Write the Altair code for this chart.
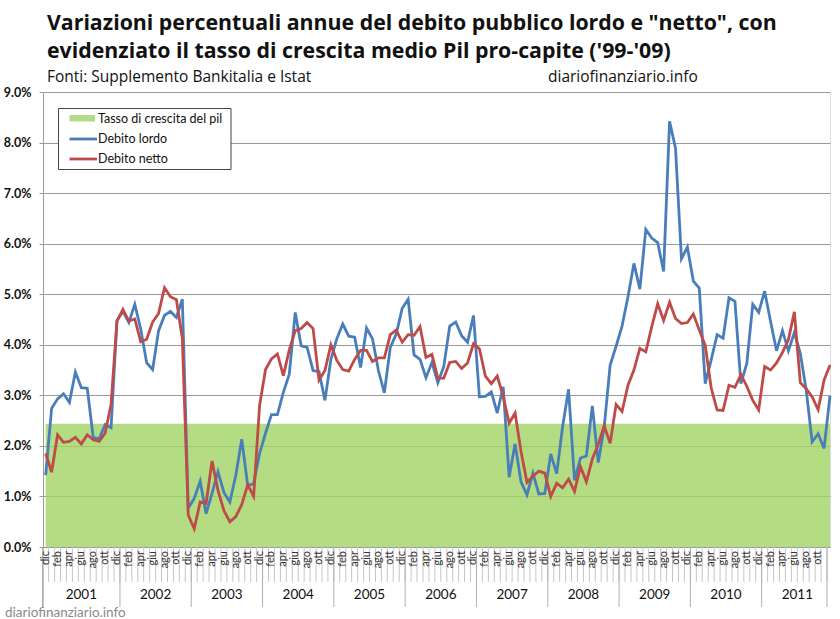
import altair as alt
import pandas as pd

# ---------------- data ----------------
mesi = ["gen", "feb", "mar", "apr", "mag", "giu", "lug", "ago", "set", "ott", "nov", "dic"]
anni = [2001, 2002, 2003, 2004, 2005, 2006, 2007, 2008, 2009, 2010, 2011]

# variazione % annua, da dic 2000 a dic 2011
debito_lordo = [
    1.42, 2.74, 2.93, 3.03, 2.86, 3.46, 3.15, 3.14, 2.17, 2.14, 2.42, 2.36, 4.48,
    4.66, 4.44, 4.80, 4.31, 3.64, 3.51, 4.28, 4.58, 4.66, 4.54, 4.90, 0.77,
    0.96, 1.30, 0.66, 1.06, 1.49, 1.08, 0.89, 1.42, 2.13, 1.22, 1.25, 1.85,
    2.25, 2.62, 2.62, 3.06, 3.42, 4.64, 3.98, 3.95, 3.49, 3.47, 2.90, 3.71,
    4.12, 4.41, 4.17, 4.15, 3.55, 4.33, 4.12, 3.49, 3.05, 3.95, 4.21, 4.72,
    4.90, 3.80, 3.71, 3.35, 3.65, 3.25, 3.57, 4.37, 4.45, 4.18, 4.05, 4.58,
    2.97, 2.98, 3.07, 2.65, 3.17, 1.38, 2.04, 1.29, 1.03, 1.46, 1.05, 1.06,
    1.84, 1.45, 2.38, 3.12, 1.32, 1.76, 1.80, 2.79, 1.67, 2.37, 3.60, 3.97,
    4.37, 4.95, 5.61, 5.10, 6.28, 6.11, 6.02, 5.45, 8.42, 7.89, 5.70, 5.93,
    5.26, 5.12, 3.23, 3.70, 4.20, 4.13, 4.93, 4.86, 3.23, 3.63, 4.80, 4.64,
    5.06, 4.46, 3.88, 4.28, 3.88, 4.24, 3.83, 3.10, 2.08, 2.24, 1.95, 2.99,
]
debito_netto = [
    1.85, 1.48, 2.22, 2.07, 2.09, 2.17, 2.04, 2.22, 2.12, 2.09, 2.25, 2.82, 4.47,
    4.70, 4.47, 4.51, 4.06, 4.11, 4.45, 4.62, 5.13, 4.95, 4.89, 4.12, 0.63,
    0.36, 0.89, 0.86, 1.70, 1.12, 0.72, 0.50, 0.60, 0.84, 1.23, 1.00, 2.80,
    3.51, 3.72, 3.82, 3.39, 3.90, 4.28, 4.32, 4.44, 4.32, 3.30, 3.49, 4.00,
    3.69, 3.51, 3.48, 3.71, 3.89, 3.89, 3.67, 3.74, 3.74, 4.20, 4.29, 4.05,
    4.20, 4.19, 4.36, 3.75, 3.81, 3.34, 3.34, 3.65, 3.67, 3.53, 3.64, 4.02,
    3.92, 3.38, 3.23, 3.38, 2.98, 2.45, 2.65, 1.89, 1.28, 1.40, 1.50, 1.46,
    1.00, 1.26, 1.17, 1.34, 1.10, 1.59, 1.29, 1.74, 2.03, 2.40, 2.05, 2.82,
    2.68, 3.20, 3.50, 3.93, 3.86, 4.36, 4.81, 4.48, 4.84, 4.52, 4.42, 4.44,
    4.61, 4.29, 3.99, 3.15, 2.71, 2.70, 3.20, 3.16, 3.41, 3.18, 2.90, 2.71,
    3.57, 3.50, 3.64, 3.85, 4.10, 4.65, 3.25, 3.13, 2.97, 2.72, 3.30, 3.60,
]
pil_medio = 2.44  # tasso di crescita medio Pil pro-capite '99-'09

etichette_mese = ["dic"] + [m for a in anni for m in mesi]
gruppo_anno = [anni[0]] + [a for a in anni for m in mesi]
n = len(debito_lordo)

df = pd.DataFrame({
    "i": list(range(n)),
    "mese": etichette_mese,
    "anno": gruppo_anno,
    "Debito lordo": [v / 100 for v in debito_lordo],
    "Debito netto": [v / 100 for v in debito_netto],
    "pil": [pil_medio / 100] * n,
})

# ---------------- layout ----------------
W, H = 787, 455
FONT = "Lato"
TFONT = "Open Sans"
one = pd.DataFrame({"k": [0]})

xscale = alt.Scale(domain=[-0.45, n - 1], nice=False, zero=False)
yscale = alt.Scale(domain=[0, 0.09], nice=False)
X = alt.X("i:Q", scale=xscale, axis=None)

area = alt.Chart(df).mark_area(color="#a1d363", opacity=0.8).encode(
    x=X,
    y=alt.Y("pil:Q", scale=yscale, axis=alt.Axis(
        format=".1%", values=[k / 100 for k in range(10)], grid=True,
        gridColor="#9a9a9a", domainColor="#9a9a9a", tickColor="#9a9a9a",
        tickSize=4, labelPadding=8, labelFont=FONT, labelFontWeight="bold",
        labelFontSize=12.5, labelColor="#111", title=None)),
)

lines = alt.Chart(df).transform_fold(
    ["Debito lordo", "Debito netto"], as_=["serie", "valore"]
).mark_line(strokeWidth=2.8).encode(
    x=X,
    y=alt.Y("valore:Q", scale=yscale),
    color=alt.Color("serie:N", scale=alt.Scale(
        domain=["Debito lordo", "Debito netto"], range=["#4a7ebb", "#be4b48"]), legend=None),
)

# category axis (months + years)
month_ticks = alt.Chart(df).transform_filter(f"datum.i < {n - 1}").transform_calculate(
    xb="datum.i + 0.5").mark_rule(color="#c6c6c6", strokeWidth=1).encode(
    x=alt.X("xb:Q", scale=xscale, axis=None), y=alt.value(H), y2=alt.value(H + 35))

month_labels = alt.Chart(df).transform_filter(
    f"datum.i % 2 == 0 && datum.i < {n - 1}").mark_text(
    angle=270, align="right", baseline="middle", font=FONT, fontSize=11, color="#333"
).encode(x=alt.X("i:Q", scale=xscale, axis=None), y=alt.value(H + 4), text="mese:N")

years = alt.Chart(df).transform_aggregate(
    lo="min(i)", hi="max(i)", c="mean(i)", groupby=["anno"]
).transform_calculate(xl="datum.lo - 0.5", xr="datum.hi - 0.5")

year_rules = years.mark_rule(color="#b0b0b0", strokeWidth=1).encode(
    x=alt.X("xl:Q", scale=xscale, axis=None), y=alt.value(H), y2=alt.value(H + 60))
year_end = years.transform_filter(f"datum.anno == {anni[-1]}").mark_rule(
    color="#b0b0b0", strokeWidth=1).encode(
    x=alt.X("xr:Q", scale=xscale, axis=None), y=alt.value(H), y2=alt.value(H + 60))
year_labels = years.mark_text(font=FONT, fontSize=13.5, color="#111", baseline="middle").encode(
    x=alt.X("c:Q", scale=xscale, axis=None), y=alt.value(H + 48), text="anno:N")

axis_ext = alt.Chart(one).mark_rule(color="#9a9a9a").encode(
    x=alt.value(0), y=alt.value(H), y2=alt.value(H + 60))

# legend
leg_box = alt.Chart(one).mark_rect(fill="white", stroke="#444", strokeWidth=1).encode(
    x=alt.value(15.5), x2=alt.value(188), y=alt.value(16.5), y2=alt.value(77.5))
leg_sw = alt.Chart(one).mark_rect(fill="#b4dc86").encode(
    x=alt.value(26.5), x2=alt.value(52), y=alt.value(23), y2=alt.value(29.5))
leg_l1 = alt.Chart(one).mark_rule(color="#4a7ebb", strokeWidth=2.8).encode(
    x=alt.value(26.5), x2=alt.value(54), y=alt.value(47))
leg_l2 = alt.Chart(one).mark_rule(color="#be4b48", strokeWidth=2.8).encode(
    x=alt.value(26.5), x2=alt.value(54), y=alt.value(67))
leg_txt = alt.Chart(pd.DataFrame({
    "t": ["Tasso di crescita del pil", "Debito lordo", "Debito netto"],
    "yy": [26.5, 47, 67],
})).mark_text(align="left", baseline="middle", font=FONT, fontSize=12.5, color="#111").encode(
    x=alt.value(55), y=alt.Y("yy:Q", scale=None), text="t:N")

# titles
def label(txt, x, y, size, weight="normal", color="#111", font=TFONT):
    return alt.Chart(one).mark_text(
        align="left", baseline="alphabetic", font=font, fontSize=size,
        fontWeight=weight, color=color).encode(
        x=alt.value(x), y=alt.value(y), text=alt.value(txt))

t1 = label('Variazioni percentuali annue del debito pubblico lordo e "netto", con', 4, -62, 21.3, "bold")
t2 = label("evidenziato il tasso di crescita medio Pil pro-capite ('99-'09)", 4, -34, 21.3, "bold")
t3 = label("Fonti: Supplemento Bankitalia e Istat", 4, -10.5, 15.5)
t4 = label("diariofinanziario.info", 505, -10.5, 15.5)
t5 = label("diariofinanziario.info", -38, 525, 13.5, color="#8a8a8a", font=FONT)

chart = alt.layer(
    area, month_ticks, year_rules, year_end, axis_ext, month_labels, year_labels,
    lines, leg_box, leg_sw, leg_l1, leg_l2, leg_txt, t1, t2, t3, t4, t5,
).properties(
    width=W, height=H,
    padding={"left": 43, "top": 92, "right": 10, "bottom": 72},
    autosize=alt.AutoSizeParams(type="none"),
).configure_view(stroke=None).configure(background="white")

chart.save("out.html", embed_options={"renderer": "svg", "actions": False})
